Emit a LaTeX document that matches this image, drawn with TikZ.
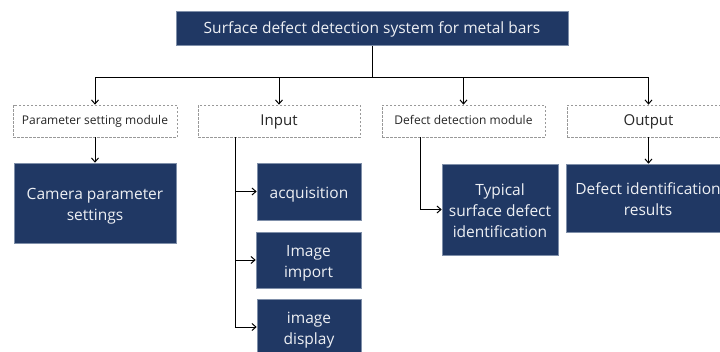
\documentclass[tikz,border=0pt]{standalone}
\usepackage{fontspec}
\setmainfont{Open Sans}
\usetikzlibrary{arrows.meta}
\definecolor{navy}{HTML}{203864}
\definecolor{boxedge}{HTML}{7F8FA9}
\definecolor{softwhite}{HTML}{EEF0F4}
% lower the text inside a node by #1 (declared extra height 2*#1)
\newcommand\lowertext[2]{\raisebox{0pt}[\dimexpr\height+#1+#1\relax][\depth]{\begin{tabular}{@{}c@{}}#2\end{tabular}}}
\begin{document}
\begin{tikzpicture}[x=1pt,y=-1pt,
  solid box/.style={draw=boxedge,line width=0.6pt,fill=navy,text=softwhite,inner sep=0pt},
  modbox/.style={draw=gray!80,dashed,line width=0.7pt,dash pattern=on 2.5pt off 1.5pt,fill=white,text=black!85,inner sep=0pt},
  leaffont/.style={font=\fontsize{15.5}{21}\selectfont},
  link/.style={line width=1pt,black},
  arr/.style={link,-{Straight Barb[length=4pt,width=7pt,line width=1pt]}}]
\useasboundingbox (0,0) rectangle (720,351);
\clip (0,0) rectangle (720,351);
% title
\node[solid box,minimum width=392pt,minimum height=34pt,font=\fontsize{15.5}{18}\selectfont] (top) at (372,28.5) {\lowertext{1.5pt}{Surface defect detection system for metal bars}};
% modules
\node[modbox,minimum width=164pt,minimum height=32pt,font=\fontsize{12}{14}\selectfont] (param) at (95,121) {\lowertext{1pt}{Parameter setting module}};
\node[modbox,minimum width=162pt,minimum height=32pt,font=\fontsize{15}{17}\selectfont] (input) at (279,121) {\lowertext{1pt}{Input}};
\node[modbox,minimum width=163pt,minimum height=32pt,font=\fontsize{12}{14}\selectfont] (defect) at (463.5,121) {\lowertext{1pt}{Defect detection module}};
\node[modbox,minimum width=163pt,minimum height=32pt,font=\fontsize{15}{17}\selectfont] (output) at (648.5,121) {\lowertext{1pt}{Output}};
% leaves
\node[solid box,leaffont,minimum width=162pt,minimum height=80pt] (cam) at (95,203) {\lowertext{3pt}{Camera parameter\\settings}};
\node[solid box,leaffont,minimum width=104pt,minimum height=57pt] (acq) at (309,191.5) {\lowertext{3pt}{acquisition}};
\node[solid box,leaffont,minimum width=105pt,minimum height=56pt] (imp) at (308.5,260) {\lowertext{3pt}{Image\\import}};
\node[solid box,leaffont,minimum width=104pt,minimum height=56pt] (disp) at (309,327) {\lowertext{3pt}{image\\display}};
\node[solid box,leaffont,minimum width=116pt,minimum height=91pt] (typ) at (500,209.5) {\lowertext{3pt}{Typical\\surface defect\\identification}};
\node[solid box,leaffont,minimum width=164pt,minimum height=68pt] (res) at (648,198) {\lowertext{3pt}{Defect identification\\results}};
% connectors
\draw[link] (top.south) -- ++(0,32) coordinate (hub);
\draw[arr] (hub) -| (param.north);
\draw[arr] (hub) -| (input.north);
\draw[arr] (hub) -| (defect.north);
\draw[arr] (hub) -| (output.north);
\draw[arr] (param.south) -- (cam.north);
\draw[arr] (output.south) -- (output.south |- res.north);
\coordinate (ib) at ([xshift=-44pt]input.south);
\draw[link] (ib) -- (ib |- disp.west);
\draw[arr] (ib) |- (acq.west);
\draw[arr] (ib) |- (imp.west);
\draw[arr] (ib) |- (disp.west);
\coordinate (db) at ([xshift=-43.5pt]defect.south);
\draw[arr] (db) |- (typ.west);
\end{tikzpicture}
\end{document}
